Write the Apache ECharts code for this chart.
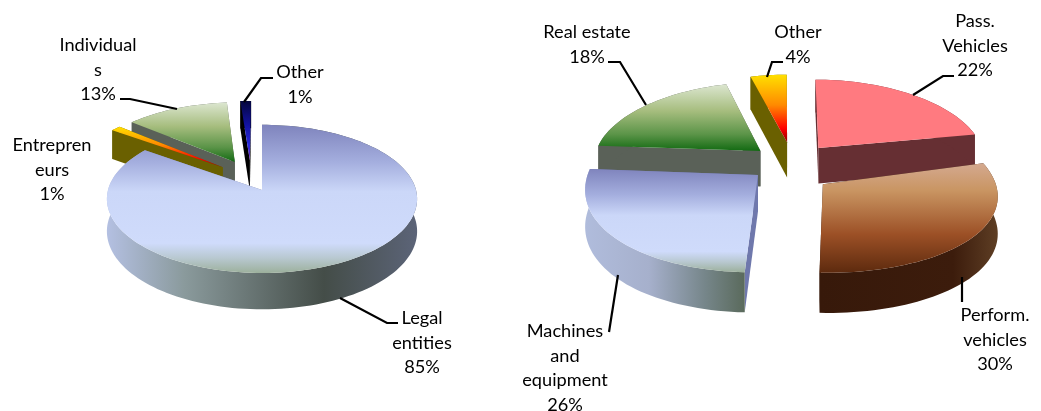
<!DOCTYPE html>
<html><head><meta charset="utf-8">
<style>html,body{margin:0;padding:0;background:#fff}#c{width:1041px;height:411px}</style>
<script src="https://cdn.jsdelivr.net/npm/echarts@6/dist/echarts.min.js"></script>
</head><body><div id="c"></div>
<script>
// ---- data ----
const clientCategories = ['Legal\nentities', 'Entrepren\neurs', 'Individual\ns', 'Other'];
const clientValues = [84.9, 1.2, 12.6, 1.3];
const assetCategories = ['Pass.\nVehicles', 'Perform.\nvehicles', 'Machines\nand\nequipment', 'Real estate', 'Other'];
const assetValues = [22, 30, 26, 18, 4];

// ---- look ----
const FONT = '18.2px Lato, Carlito, sans-serif';
const grad = (h, stops) => ({type:'linear', x:0, y:0, x2:h?1:0, y2:h?0:1, colorStops:stops.map(s=>({offset:s[0], color:s[1]}))});
const blueTop = grad(0, [[0,'#7f84bd'],[.25,'#a4aede'],[.45,'#cbd7f8'],[.8,'#cfdbfb'],[.9,'#b8c8d0'],[1,'#9cb09c']]);
const greenTop = grad(0, [[0,'#dce6d0'],[.4,'#a6bd7e'],[.75,'#5b9448'],[1,'#126a12']]);
const fireTop = grad(0, [[0,'#ffe000'],[.45,'#ff8a00'],[.8,'#ff0000'],[1,'#900000']]);
const brownTop = grad(0, [[0,'#d4a990'],[.25,'#c99562'],[.65,'#9c5026'],[1,'#5d2a0e']]);
const navyTop = grad(0, [[0,'#04063a'],[.4,'#1212a0'],[.75,'#2a2ae0'],[1,'#7020b0']]);
const greyWall = '#5a6158', olive = '#6a6000';
const blueWall = grad(1, [[0,'#b4c0e2'],[.25,'#8a9a9c'],[.7,'#444d48'],[1,'#5c6478']]);
const blueWall2 = grad(1, [[0,'#b0bcdc'],[.4,'#a6b0cc'],[.75,'#76868a'],[1,'#5a6a5c']]);
const brownWall = grad(1, [[0,'#37190a'],[.75,'#3c1c0c'],[1,'#5e3e24']]);

const pies = [{
  categories: clientCategories, values: clientValues,
  cx: 262, cy: 190, rx: 154, ry: 73, k: .12, kx: .12, depth: 32,
  explode: [[0,0],[-.265,.325],[-.185,.401],[-.083,.43]],
  sweepScale: [1,1,1,1],
  startNudge: [0,0,0,0],
  stretchV: [1,1,1,1],
  order: [3,2,1,0],
  top: [blueTop, fireTop, greenTop, navyTop],
  wall: [blueWall, olive, greyWall, '#000'],
  cut: ['#7f84a8', olive, greyWall, '#000'],
  labelAt: [[422,343],[52,170],[98,70],[300,84.5]],
  leader: [[[340,298],[387,323],[398,323]], null, [[120,99],[130,99],[177,109]], [[244,102],[261,78],[273,78]]]
},{
  categories: assetCategories, values: assetValues,
  cx: 790, cy: 162, rx: 167, ry: 76, k: .08, kx: .12, depth: 36,
  explode: [[.174,.186],[.19,-.285],[-.188,-.17],[-.18,.146],[-.018,.266]],
  sweepScale: [1,.955,.98,1.1,1],
  startNudge: [0,-4.5,0,0,0],
  stretchV: [1,1.02,1.13,1,1],
  order: [4,0,3,2,1],
  top: ['#ff7a80', brownTop, blueTop, greenTop, fireTop],
  wall: ['#662f33', brownWall, blueWall2, greyWall, olive],
  cut: ['#662f33', '#37190a', '#6f78ac', greyWall, olive],
  labelAt: [[975,46],[995,340],[565,368],[587,44.5],[798,44.5]],
  leader: [[[954,76],[943,76],[913,95]], [[962,277],[962,302]], [[618,275],[609,332]], [[608,62],[620,62],[646,105]], [[783,62],[772,62],[767,77]]]
}];

function makeSeries(p) {
  const total = p.values.reduce((a,b)=>a+b,0);
  const spans = []; let run = 0;
  p.values.forEach((v,i)=>{ const sw = v/total*360*p.sweepScale[i]; spans.push([run+p.startNudge[i], run+sw]); run += sw; });
  const proj = (u,v,drop) => {
    const s = 1/(1+p.k*v), sx = 1/(1+p.kx*v);
    return [p.cx + p.rx*u*sx, p.cy - p.ry*v*s + (drop ? p.depth*s : 0)];
  };
  const rank = i => p.order.indexOf(i);
  return {
    type: 'custom', coordinateSystem: 'none', silent: true, animation: false,
    data: p.values.map((v,i)=>({name:p.categories[i], value:[v]})),
    renderItem(params, api) {
      const i = params.dataIndex, value = api.value(0);
      const [ou,ov] = p.explode[i], [a0,a1] = spans[i];
      const n = Math.max(4, Math.ceil((a1-a0)/2));
      const arc = [];
      for (let j=0;j<=n;j++){ const t=(a0+(a1-a0)*j/n)*Math.PI/180; arc.push([ou+Math.sin(t), ov+Math.cos(t)*p.stretchV[i]]); }
      const topArc = arc.map(q=>proj(q[0],q[1],false)), lowArc = arc.map(q=>proj(q[0],q[1],true));
      const apexT = proj(ou,ov,false), apexB = proj(ou,ov,true);
      const z = 10*rank(i)+1, kids = [];
      const poly = (pts, fill, zz) => kids.push({type:'polygon', shape:{points:pts}, style:{fill, stroke:null}, z2:zz});
      poly([apexT, topArc[n], lowArc[n], apexB], p.cut[i], z);
      poly([apexT, topArc[0], lowArc[0], apexB], p.cut[i], z);
      poly(topArc.concat(lowArc.slice().reverse()), p.wall[i], z+1);
      poly([apexT].concat(topArc), p.top[i], z+2);
      const la = p.labelAt[i];
      kids.push({type:'text', x:la[0], y:la[1], z2:1000, style:{
        text: p.categories[i] + '\n' + value.toFixed(0) + '%', font: FONT, fill:'#000',
        align:'center', verticalAlign:'middle', lineHeight:24.5}});
      if (p.leader[i]) kids.push({type:'polyline', z2:999, shape:{points:p.leader[i]},
        style:{stroke:'#000', lineWidth:2.2, fill:null}});
      return {type:'group', children:kids};
    }
  };
}
const chart = echarts.init(document.getElementById('c'), null, {renderer:'canvas'});
chart.setOption({backgroundColor:'#fff', animation:false, series:pies.map(makeSeries)});
</script></body></html>
